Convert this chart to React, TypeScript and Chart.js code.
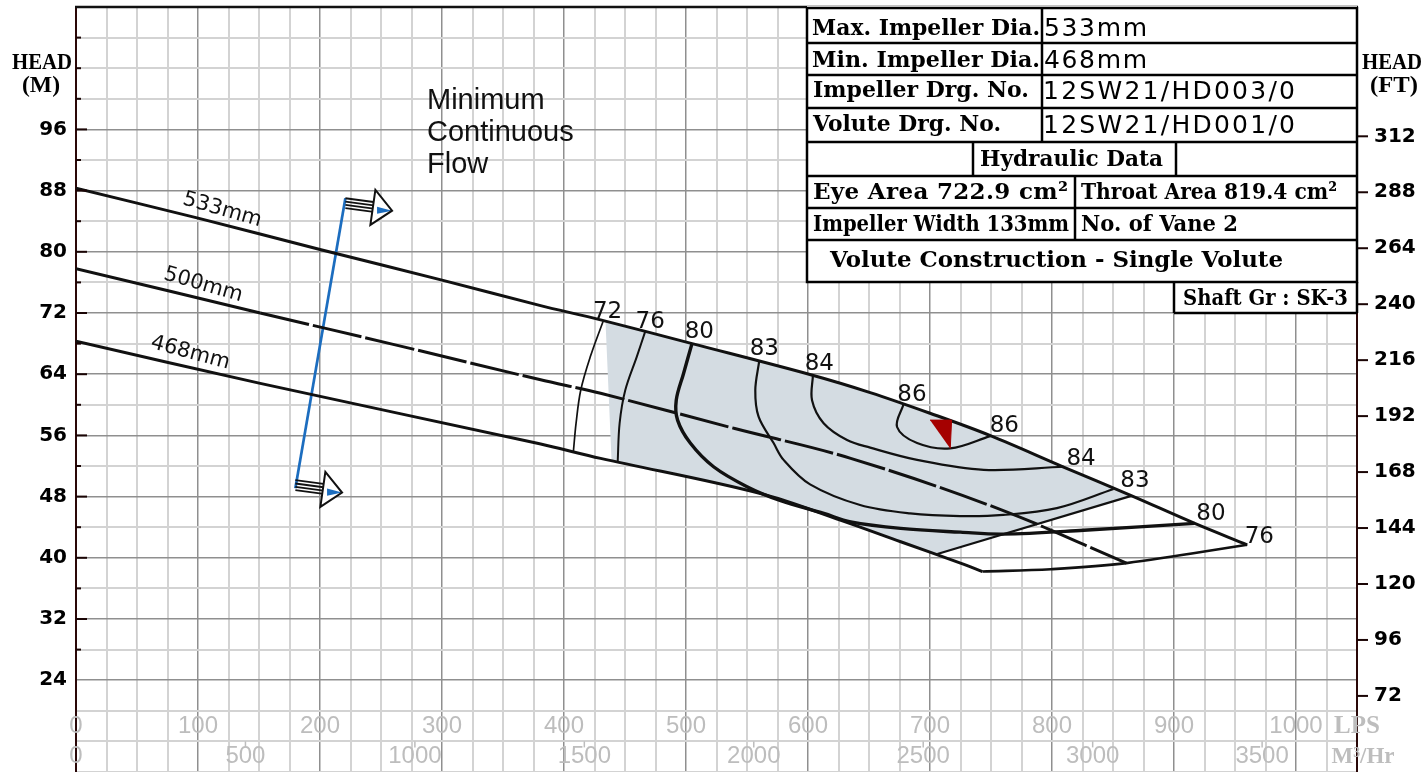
import React, { useEffect, useRef } from "react";
import { Chart, registerables } from "chart.js";

Chart.register(...registerables);

// ---------- axis ranges ----------
const FLOW_MAX = 1050; // LPS
const HEAD_MIN = 12; // m
const HEAD_MAX = 112; // m
const M_TO_FT = 3.28084;
const LPS_PER_M3H = 1 / 3.6;

// ---------- tick labels ----------
const headTicks = [24, 32, 40, 48, 56, 64, 72, 80, 88, 96];
const ftTicks = [72, 96, 120, 144, 168, 192, 216, 240, 264, 288, 312];
const lpsTicks = [0, 100, 200, 300, 400, 500, 600, 700, 800, 900, 1000];
const m3hTicks = [0, 500, 1000, 1500, 2000, 2500, 3000, 3500];

// ---------- head curves [flow LPS, head m] ----------
const head533: [number, number][] = [
  [0, 88.3], [100, 84.4], [200, 80.3], [300, 76.3], [380, 73.0], [430, 71.1],
  [505, 68.0], [603, 63.9], [651, 61.6], [700, 58.9], [749, 56.0], [809, 51.9],
  [864, 48.2], [917, 44.5], [960, 41.7],
];
const head500: [number, number][] = [
  [0, 77.8], [151, 72.0], [260, 67.9], [380, 63.3], [430, 61.5], [540, 56.9],
  [635, 53.0], [758, 46.3], [861, 39.3],
];
const head468: [number, number][] = [
  [0, 68.3], [151, 62.8], [380, 54.9], [430, 53.0], [561, 48.4], [627, 44.9],
  [676, 42.1], [725, 39.3], [743, 38.2],
];
const boundaryBottom: [number, number][] = [[743, 38.2], [799, 38.5], [861, 39.3], [960, 41.7]];
const shadeEdge: [number, number][] = [[706, 40.5], [865, 48.1]];
const shadeRegion: [number, number][] = [
  [434, 70.95], [505, 68.0], [603, 63.9], [651, 61.6], [700, 58.9], [749, 56.0],
  [809, 51.9], [865, 48.1], [706, 40.5], [676, 42.1], [627, 44.9], [561, 48.4],
  [500, 50.6], [439, 52.65],
];

// ---------- efficiency iso-lines ----------
const eff72: [number, number][] = [[432, 70.9], [421.6, 66.3], [413.7, 61.9], [409.9, 57.6], [407.7, 53.9]];
const eff76: [number, number][] = [[466.6, 69.6], [459.7, 66.3], [450.2, 61.9], [445.6, 57.6], [444, 52.5]];
const eff80: [number, number][] = [
  [504.9, 68.0], [498, 64.1], [492, 60.6], [493.1, 58.0], [503.5, 55.0], [522.6, 51.9],
  [550, 49.3], [577, 47.5], [613, 45.8], [635, 44.7], [676, 43.85], [725, 43.35],
  [760, 43.1], [826, 43.6], [917, 44.5],
];
const eff83: [number, number][] = [
  [560, 65.7], [556.8, 61.9], [559.5, 58.45], [571.8, 55.0], [580, 52.8], [601.7, 49.6],
  [642.7, 46.9], [683.7, 45.8], [724.8, 45.45], [760, 45.6], [804, 46.5], [850.5, 49.0],
];
const eff84: [number, number][] = [
  [604, 63.8], [603.3, 60.6], [612.8, 57.6], [632, 55.4], [651, 54.4], [689.4, 52.8],
  [744, 51.5], [809.6, 51.9],
];
const eff86: [number, number][] = [[678.4, 60.1], [673, 57.1], [689.4, 55.0], [716.6, 54.3], [749.4, 55.9]];

// ---------- minimum continuous flow & best efficiency marker ----------
const mcfLine: [number, number][] = [[179.8, 49.1], [220.8, 87.0]];
const bepMarker: [number, number][] = [[700, 58.0], [717.7, 58.0], [716.6, 54.3]];

// ---------- labels ----------
const diameterLabels: [string, number, number][] = [
  ["533mm", 119.9, 85.46],
  ["500mm", 104.3, 75.66],
  ["468mm", 93.7, 66.77],
];
const diameterAngles = [16, 16, 15];
const effLabels: [string, number, number][] = [
  ["72", 435.7, 72.17], ["76", 470.7, 70.87], ["80", 510.9, 69.56], ["83", 564.2, 67.25],
  ["84", 609.3, 65.33], ["86", 685.2, 61.28], ["86", 760.9, 57.23], ["84", 823.8, 52.88],
  ["83", 868.0, 50.04], ["80", 930.3, 45.69], ["76", 969.9, 42.72],
];
const mcfText = ["Minimum", "Continuous", "Flow"];

const tableLabels: [string, number, number, number][] = [
  ["Max. Impeller Dia.", 812, 35, 228],
  ["Min. Impeller Dia.", 812, 67, 228],
  ["Impeller Drg. No.", 813, 97, 216],
  ["Volute Drg. No.", 813, 131, 188],
  ["Hydraulic Data", 980, 166, 183],
  ["Eye Area 722.9 cm²", 813, 199, 255],
  ["Throat Area 819.4 cm²", 1081, 199, 256],
  ["Impeller Width 133mm", 813, 231, 256],
  ["No. of Vane 2", 1081, 231, 157],
  ["Volute Construction - Single Volute", 830, 267, 453],
  ["Shaft Gr : SK-3", 1183, 305, 165],
];
const tableValues: [string, number, number, number][] = [
  ["533mm", 1044, 36, 103],
  ["468mm", 1044, 68, 103],
  ["12SW21/HD003/0", 1043, 99, 252],
  ["12SW21/HD001/0", 1043, 133, 252],
];

// ---------- helpers ----------
function fitText(ctx: CanvasRenderingContext2D, text: string, x: number, y: number, width: number) {
  const w = ctx.measureText(text).width || 1;
  ctx.save();
  ctx.translate(x, y);
  ctx.scale(width / w, 1);
  ctx.textAlign = "left";
  ctx.fillText(text, 0, 0);
  ctx.restore();
}
function fitSpaced(ctx: CanvasRenderingContext2D, text: string, x: number, y: number, width: number) {
  const c = ctx as any;
  const hasLS = "letterSpacing" in c;
  if (hasLS) c.letterSpacing = "0px";
  const w = ctx.measureText(text).width;
  if (hasLS && w < width && text.length > 1) {
    c.letterSpacing = `${(width - w) / (text.length - 1)}px`;
    ctx.textAlign = "left";
    ctx.fillText(text, x, y);
    c.letterSpacing = "0px";
  } else {
    fitText(ctx, text, x, y, width);
  }
}
function fitCenter(ctx: CanvasRenderingContext2D, text: string, cx: number, y: number, width: number) {
  fitText(ctx, text, cx - width / 2, y, width);
}
function seg(ctx: CanvasRenderingContext2D, x1: number, y1: number, x2: number, y2: number) {
  ctx.beginPath();
  ctx.moveTo(x1, y1);
  ctx.lineTo(x2, y2);
  ctx.stroke();
}
function drawArrow(ctx: CanvasRenderingContext2D, sx: number, sy: number) {
  ctx.save();
  ctx.strokeStyle = "#111";
  ctx.lineWidth = 1.8;
  for (let i = 0; i < 4; i++) {
    const o = -5 + i * 3.3;
    seg(ctx, sx, sy + o, sx + 30, sy + o + 4);
  }
  const head = () => {
    ctx.beginPath();
    ctx.moveTo(sx + 30, sy - 13.3);
    ctx.lineTo(sx + 46.7, sy + 7.4);
    ctx.lineTo(sx + 25, sy + 21.7);
    ctx.closePath();
  };
  head();
  ctx.fillStyle = "#fff";
  ctx.fill();
  ctx.beginPath();
  ctx.moveTo(sx + 31.7, sy + 3.4);
  ctx.lineTo(sx + 46.7, sy + 7.4);
  ctx.lineTo(sx + 31.7, sy + 10.5);
  ctx.closePath();
  ctx.fillStyle = "#1c6dbf";
  ctx.fill();
  head();
  ctx.lineWidth = 2;
  ctx.stroke();
  ctx.restore();
}
function drawTable(ctx: CanvasRenderingContext2D) {
  const L = 807, R = 1357, T = 8, B = 282;
  ctx.save();
  ctx.fillStyle = "#fff";
  ctx.fillRect(L, 6, R - L, B - 6);
  ctx.fillRect(1174, B, R - 1174, 31);
  ctx.strokeStyle = "#000";
  ctx.lineWidth = 2.5;
  ctx.strokeRect(L, T, R - L, B - T);
  for (const y of [43, 75, 108, 142, 176, 208, 240]) seg(ctx, L, y, R, y);
  seg(ctx, 1042, T, 1042, 142);
  seg(ctx, 973, 142, 973, 176);
  seg(ctx, 1176, 142, 1176, 176);
  seg(ctx, 1075, 176, 1075, 240);
  seg(ctx, 1174, B, 1174, 313);
  seg(ctx, 1174, 313, R, 313);
  seg(ctx, R, B, R, 313);
  ctx.fillStyle = "#000";
  ctx.textBaseline = "alphabetic";
  ctx.font = 'bold 23px "DejaVu Serif", serif';
  for (const [t, x, y, w] of tableLabels) fitSpaced(ctx, t, x, y, w);
  ctx.font = '25px "DejaVu Sans", sans-serif';
  for (const [t, x, y, w] of tableValues) fitSpaced(ctx, t, x, y, w);
  ctx.restore();
}

const decorPlugin = {
  id: "decor",
  beforeDraw(chart: any) {
    const { ctx, width, height } = chart;
    ctx.save();
    ctx.fillStyle = "#fff";
    ctx.fillRect(0, 0, width, height);
    ctx.restore();
  },
  afterDatasetsDraw(chart: any) {
    const ctx: CanvasRenderingContext2D = chart.ctx;
    const { left, right, top } = chart.chartArea;
    const xs = chart.scales.x, ys = chart.scales.y, y2 = chart.scales.y2;
    const X = (v: number) => xs.getPixelForValue(v);
    const Y = (v: number) => ys.getPixelForValue(v);
    ctx.save();

    // grey flow scale labels inside the grid
    ctx.fillStyle = "#bdbdbd";
    ctx.textAlign = "center";
    ctx.textBaseline = "middle";
    ctx.font = '24px "Liberation Sans", sans-serif';
    for (const v of lpsTicks) ctx.fillText(String(v), X(v), Y(18));
    for (const v of m3hTicks) ctx.fillText(String(v), X(v * LPS_PER_M3H), Y(14));
    ctx.strokeStyle = "#bdbdbd";
    ctx.lineWidth = 1.5;
    for (const v of m3hTicks) if (v > 0) seg(ctx, X(v * LPS_PER_M3H), Y(16), X(v * LPS_PER_M3H), Y(16) + 6);
    ctx.font = 'bold 25px "Liberation Serif", serif';
    ctx.fillText("LPS", right, Y(18));
    ctx.font = 'bold 23px "Liberation Serif", serif';
    ctx.fillText("M³/Hr", right + 6, Y(14));

    // top frame
    ctx.strokeStyle = "#111";
    ctx.lineWidth = 2.5;
    seg(ctx, left - 1, top, right + 1, top);

    // left ticks (inside) and right ticks (outside)
    ctx.strokeStyle = "#1a0404";
    ctx.lineWidth = 2;
    for (let v = 28; v <= 108; v += 4) {
      const len = headTicks.includes(v) ? 11 : 5;
      seg(ctx, left, Y(v), left + len, Y(v));
    }
    for (const v of ftTicks) {
      const y = y2.getPixelForValue(v);
      seg(ctx, right, y, right + 11, y);
    }

    // axis titles
    ctx.fillStyle = "#000";
    ctx.textBaseline = "alphabetic";
    ctx.font = 'bold 23px "Liberation Serif", serif';
    fitCenter(ctx, "HEAD", 42, 69, 60);
    fitCenter(ctx, "(M)", 41, 92, 38);
    fitCenter(ctx, "HEAD", 1392, 69, 60);
    fitCenter(ctx, "(FT)", 1394, 92, 48);

    // impeller diameter labels
    ctx.fillStyle = "#111";
    ctx.textAlign = "center";
    ctx.textBaseline = "middle";
    ctx.font = '21px "DejaVu Sans", sans-serif';
    diameterLabels.forEach(([t, x, y], i) => {
      ctx.save();
      ctx.translate(X(x), Y(y));
      ctx.rotate((diameterAngles[i] * Math.PI) / 180);
      ctx.fillText(t, 0, 0);
      ctx.restore();
    });

    // efficiency labels
    ctx.font = '23px "DejaVu Sans", sans-serif';
    for (const [t, x, y] of effLabels) ctx.fillText(t, X(x), Y(y));

    // minimum continuous flow arrows
    drawArrow(ctx, X(mcfLine[1][0]), Y(mcfLine[1][1]) + 5);
    drawArrow(ctx, X(mcfLine[0][0]), Y(mcfLine[0][1]) - 3);

    // MCF text
    ctx.fillStyle = "#111";
    ctx.font = '29px "Liberation Sans", sans-serif';
    ctx.textAlign = "left";
    ctx.textBaseline = "alphabetic";
    mcfText.forEach((t, i) => ctx.fillText(t, 427, 109 + i * 32));

    drawTable(ctx);
    ctx.restore();
  },
};

function line(data: [number, number][], extra: any = {}) {
  return {
    data: data.map(([x, y]) => ({ x, y })),
    borderColor: "#111",
    borderWidth: 2,
    pointRadius: 0,
    pointHoverRadius: 0,
    tension: 0.35,
    fill: false,
    order: 1,
    ...extra,
  };
}

const stepRange = (a: number, b: number, s: number) => {
  const out: { value: number }[] = [];
  for (let v = a; v <= b + 1e-9; v += s) out.push({ value: v });
  return out;
};

export default function App() {
  const ref = useRef<HTMLCanvasElement>(null);

  useEffect(() => {
    const canvas = ref.current;
    if (!canvas) return;
    const datasets = [
      line(shadeRegion, { borderColor: "rgba(0,0,0,0)", borderWidth: 0, backgroundColor: "#d4dce2", fill: "shape", tension: 0, order: 10 }),
      line(head533, { borderWidth: 3 }),
      line(head500.slice(0, 2), { borderWidth: 3 }),
      line(head500.slice(1), { borderWidth: 3, borderDash: [50, 4] }),
      line(head468, { borderWidth: 3 }),
      line(boundaryBottom, { borderWidth: 2.6 }),
      line(shadeEdge, { borderWidth: 2.2, tension: 0 }),
      line(eff72, { borderWidth: 1.7 }),
      line(eff76, { borderWidth: 2 }),
      line(eff80, { borderWidth: 3.4 }),
      line(eff83, { borderWidth: 2.2 }),
      line(eff84, { borderWidth: 2.2 }),
      line(eff86, { borderWidth: 2.2 }),
      line(mcfLine, { borderColor: "#1c6dbf", borderWidth: 2.7, tension: 0 }),
      line(bepMarker, { borderColor: "#a50000", backgroundColor: "#a50000", borderWidth: 1, fill: "shape", tension: 0, order: 0 }),
    ];

    const gridColorY = (c: any) => (headTicks.includes(c.tick?.value) ? "#8f8f8f" : "#d3d3d3");
    const gridWidthY = (c: any) => (headTicks.includes(c.tick?.value) ? 1.5 : 2);
    const isMajorX = (v: number) => v > 0 && v <= 1000 && v % 100 === 0;

    const chart = new Chart(canvas, {
      type: "line",
      data: { datasets } as any,
      options: {
        responsive: false,
        animation: false,
        devicePixelRatio: 1,
        events: [],
        layout: { padding: { top: 7, left: 0, right: 0, bottom: 0 }, autoPadding: false } as any,
        plugins: {
          legend: { display: false },
          tooltip: { enabled: false },
          title: { display: false },
        },
        scales: {
          x: {
            type: "linear",
            min: 0,
            max: FLOW_MAX,
            afterBuildTicks: (s: any) => { s.ticks = stepRange(0, FLOW_MAX, 25); },
            afterFit: (s: any) => { s.height = 0; s.paddingLeft = 0; s.paddingRight = 0; },
            ticks: { display: false, autoSkip: false },
            grid: {
              drawTicks: false,
              color: (c: any) => (isMajorX(c.tick?.value) ? "#8f8f8f" : "#d3d3d3"),
              lineWidth: (c: any) => (isMajorX(c.tick?.value) ? 1.5 : 2),
            },
            border: { display: false },
          },
          y: {
            type: "linear",
            position: "left",
            min: HEAD_MIN,
            max: HEAD_MAX,
            afterBuildTicks: (s: any) => { s.ticks = stepRange(HEAD_MIN, HEAD_MAX, 4); },
            afterFit: (s: any) => { s.width = 76; s.paddingTop = 0; s.paddingBottom = 0; },
            ticks: {
              autoSkip: false,
              padding: 9,
              color: "#000",
              font: { family: "DejaVu Sans", size: 20, weight: "bold" },
              callback: (v: any) => (headTicks.includes(Number(v)) ? String(v) : ""),
            },
            grid: { drawTicks: false, color: gridColorY, lineWidth: gridWidthY },
            border: { display: true, color: "#2a0808", width: 2 },
          },
          y2: {
            type: "linear",
            position: "right",
            min: HEAD_MIN * M_TO_FT,
            max: HEAD_MAX * M_TO_FT,
            afterBuildTicks: (s: any) => { s.ticks = ftTicks.map((v) => ({ value: v })); },
            afterFit: (s: any) => { s.width = 66; s.paddingTop = 0; s.paddingBottom = 0; },
            ticks: {
              autoSkip: false,
              padding: 17,
              color: "#000",
              font: { family: "DejaVu Sans", size: 20, weight: "bold" },
              callback: (v: any) => String(v),
            },
            grid: { display: false, drawTicks: false, drawOnChartArea: false },
            border: { display: true, color: "#2a0808", width: 2 },
          },
        },
      } as any,
      plugins: [decorPlugin as any],
    });
    return () => chart.destroy();
  }, []);

  return (
    <div style={{ position: "absolute", left: 0, top: 0, width: 1423, height: 772, background: "#fff" }}>
      <canvas ref={ref} width={1423} height={772} style={{ display: "block" }} />
    </div>
  );
}
